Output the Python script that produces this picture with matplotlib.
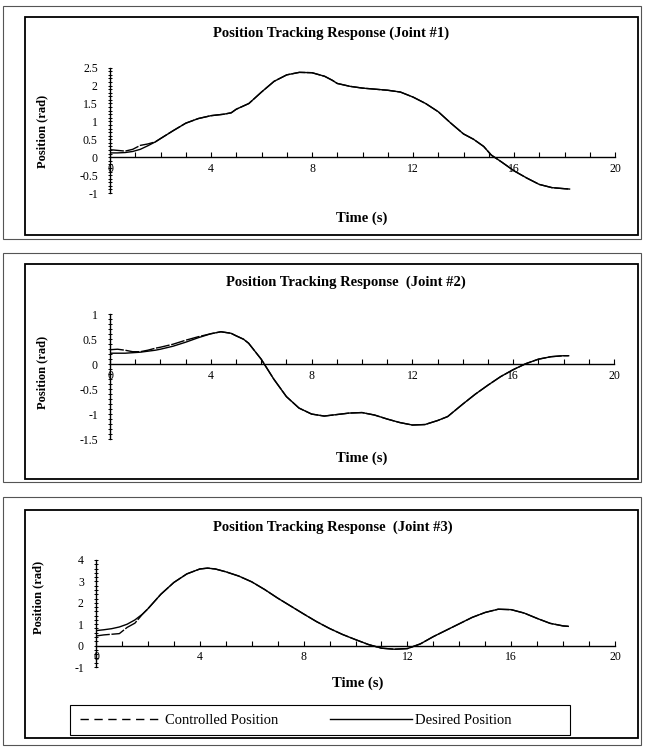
import matplotlib
matplotlib.use("Agg")
import matplotlib.pyplot as plt
from matplotlib.lines import Line2D
from matplotlib.patches import Rectangle
from matplotlib.ticker import MultipleLocator

# ---- data ----
time_1 = [0, 0.3, 0.6, 0.9, 1.2, 1.5, 1.8, 2.0, 2.5, 3.0, 3.5, 4.0, 4.5, 4.8, 5.0,
          5.5, 6.0, 6.5, 7.0, 7.5, 8.0, 8.5, 8.8, 9.0, 9.5, 10.0, 10.5, 11.0, 11.5,
          12.0, 12.5, 13.0, 13.5, 14.0, 14.4, 14.8, 15.1, 15.5, 16.0, 16.5, 17.0,
          17.5, 18.0, 18.2]
desired_1 = [0.12, 0.12, 0.13, 0.16, 0.22, 0.32, 0.43, 0.52, 0.74, 0.95, 1.08, 1.16,
             1.20, 1.24, 1.34, 1.50, 1.82, 2.12, 2.30, 2.37, 2.36, 2.26, 2.15, 2.06,
             1.98, 1.93, 1.90, 1.87, 1.82, 1.68, 1.50, 1.27, 0.95, 0.65, 0.50, 0.30,
             0.06, -0.13, -0.38, -0.58, -0.76, -0.85, -0.88, -0.89]
controlled_1 = [0.21, 0.19, 0.17, 0.22, 0.33, 0.37, 0.43, 0.52, 0.74, 0.95, 1.08, 1.16,
                1.20, 1.24, 1.34, 1.50, 1.82, 2.12, 2.30, 2.37, 2.36, 2.26, 2.15, 2.06,
                1.98, 1.93, 1.90, 1.87, 1.82, 1.68, 1.50, 1.27, 0.95, 0.65, 0.50, 0.30,
                0.06, -0.13, -0.38, -0.58, -0.76, -0.85, -0.88, -0.89]

time_2 = [0, 0.3, 0.6, 0.9, 1.2, 1.5, 1.8, 2.0, 2.5, 3.0, 3.5, 4.0, 4.4, 4.8, 5.0,
          5.3, 5.5, 6.0, 6.5, 7.0, 7.5, 8.0, 8.5, 9.0, 9.5, 10.0, 10.5, 11.0, 11.5,
          12.0, 12.5, 13.0, 13.4, 14.0, 14.5, 15.0, 15.5, 16.0, 16.5, 17.0, 17.5,
          18.0, 18.2]
desired_2 = [0.22, 0.22, 0.22, 0.23, 0.24, 0.26, 0.28, 0.30, 0.36, 0.44, 0.53, 0.61,
             0.65, 0.62, 0.57, 0.50, 0.42, 0.10, -0.30, -0.65, -0.88, -1.00, -1.04,
             -1.01, -0.98, -0.97, -1.02, -1.10, -1.17, -1.22, -1.21, -1.13, -1.05,
             -0.80, -0.60, -0.42, -0.25, -0.11, 0.01, 0.10, 0.15, 0.17, 0.17]
controlled_2 = [0.29, 0.30, 0.28, 0.25, 0.25, 0.28, 0.32, 0.34, 0.40, 0.48, 0.55, 0.61,
                0.65, 0.62, 0.57, 0.50, 0.42, 0.10, -0.30, -0.65, -0.88, -1.00, -1.04,
                -1.01, -0.98, -0.97, -1.02, -1.10, -1.17, -1.22, -1.21, -1.13, -1.05,
                -0.80, -0.60, -0.42, -0.25, -0.11, 0.01, 0.10, 0.15, 0.17, 0.17]

time_3 = [0, 0.3, 0.6, 0.9, 1.2, 1.5, 1.8, 2.0, 2.5, 3.0, 3.5, 4.0, 4.3, 4.6, 5.0,
          5.5, 6.0, 6.5, 7.0, 7.5, 8.0, 8.5, 9.0, 9.5, 10.0, 10.5, 11.0, 11.5, 12.0,
          12.5, 13.0, 13.5, 14.0, 14.5, 15.0, 15.5, 16.0, 16.5, 17.0, 17.5, 18.0, 18.2]
desired_3 = [0.70, 0.74, 0.79, 0.87, 1.00, 1.20, 1.48, 1.72, 2.40, 2.95, 3.35, 3.58,
             3.62, 3.58, 3.45, 3.25, 2.98, 2.62, 2.22, 1.85, 1.48, 1.12, 0.80, 0.52,
             0.28, 0.05, -0.12, -0.17, -0.14, 0.08, 0.42, 0.72, 1.02, 1.32, 1.55, 1.70,
             1.68, 1.52, 1.27, 1.04, 0.92, 0.90]
controlled_3 = [0.45, 0.50, 0.53, 0.56, 0.85, 1.05, 1.48, 1.72, 2.40, 2.95, 3.35, 3.58,
                3.62, 3.58, 3.45, 3.25, 2.98, 2.62, 2.22, 1.85, 1.48, 1.12, 0.80, 0.52,
                0.28, 0.05, -0.12, -0.17, -0.14, 0.08, 0.42, 0.72, 1.02, 1.32, 1.55, 1.70,
                1.68, 1.52, 1.27, 1.04, 0.92, 0.90]

titles = ["Position Tracking Response (Joint #1)",
          "Position Tracking Response  (Joint #2)",
          "Position Tracking Response  (Joint #3)"]
legend_labels = ["Controlled Position", "Desired Position"]

W, H = 654, 747
SERIF = ["Liberation Serif", "DejaVu Serif"]
plt.rcParams["font.family"] = SERIF


def px_box(x0, y0, x1, y1):
    """Pixel box (top-left origin) -> figure fraction rect."""
    return [x0 / W, 1 - y1 / H, (x1 - x0) / W, (y1 - y0) / H]


def fig_xy(x, y):
    return x / W, 1 - y / H


def add_frame(box, color, lw):
    x0, y0, x1, y1 = box
    fig.add_artist(Rectangle(fig_xy(x0, y1), (x1 - x0) / W, (y1 - y0) / H,
                             transform=fig.transFigure, fill=False,
                             edgecolor=color, linewidth=lw))


fig = plt.figure(figsize=(W / 100, H / 100), dpi=100)
fig.patch.set_facecolor("white")

panels = [
    dict(t=time_1, des=desired_1, ctl=controlled_1, title=titles[0],
         ax_box=(110, 67.7, 615, 193), ylim=(-1, 2.5), major=0.5, minor=0.1,
         outer=(3, 6, 641, 239), inner=(25, 17, 638, 235),
         title_xy=(331, 33), ylab_xy=(42, 131), xlab_xy=(362, 218)),
    dict(t=time_2, des=desired_2, ctl=controlled_2, title=titles[1],
         ax_box=(110, 314.3, 614, 439), ylim=(-1.5, 1), major=0.5, minor=0.1,
         outer=(3, 253, 641, 482), inner=(25, 264, 638, 479),
         title_xy=(346, 282), ylab_xy=(42, 372), xlab_xy=(362, 458)),
    dict(t=time_3, des=desired_3, ctl=controlled_3, title=titles[2],
         ax_box=(96, 560, 615, 667), ylim=(-1, 4), major=1, minor=0.2,
         outer=(3, 497, 641, 745), inner=(25, 510, 638, 738),
         title_xy=(333, 527), ylab_xy=(38, 597), xlab_xy=(358, 683)),
]

for p in panels:
    # frames around each chart
    add_frame(p["outer"], "#555555", 0.8)
    add_frame(p["inner"], "black", 1.3)

    ax = fig.add_axes(px_box(*p["ax_box"]))
    ax.patch.set_alpha(0)
    # the scan blurs the controlled trace into an almost solid line
    ax.plot(p["t"], p["ctl"], color="black", linewidth=1.0, dashes=(10, 1.2))
    ax.plot(p["t"], p["des"], color="black", linewidth=1.0)

    ax.set_xlim(0, 20)
    ax.set_ylim(*p["ylim"])
    ax.spines["top"].set_visible(False)
    ax.spines["right"].set_visible(False)
    ax.spines["bottom"].set_position(("data", 0))
    ax.spines["left"].set_linewidth(1.0)
    ax.spines["bottom"].set_linewidth(1.0)

    ax.xaxis.set_major_locator(MultipleLocator(4))
    ax.xaxis.set_minor_locator(MultipleLocator(1))
    ax.yaxis.set_major_locator(MultipleLocator(p["major"]))
    ax.yaxis.set_minor_locator(MultipleLocator(p["minor"]))
    ax.tick_params(axis="x", which="both", direction="in", length=3.5, width=0.8,
                   labelsize=8.5, pad=4)
    ax.tick_params(axis="y", which="both", direction="inout", length=3.5, width=0.7,
                   labelsize=8.5, pad=7)
    ax.yaxis.set_major_formatter(matplotlib.ticker.FuncFormatter(
        lambda v, _: f"{v:g}"))

    fig.text(*fig_xy(*p["title_xy"]), p["title"], ha="center", va="center",
             fontsize=10.5, fontweight="bold")
    fig.text(*fig_xy(*p["ylab_xy"]), "Position (rad)", ha="center", va="center",
             rotation=90, fontsize=9, fontweight="bold")
    fig.text(*fig_xy(*p["xlab_xy"]), "Time (s)", ha="center", va="center",
             fontsize=10.5, fontweight="bold")

# legend below the third chart: box drawn separately, entries placed inside it
add_frame((70, 705, 570, 735), "black", 0.8)
handles = [Line2D([], [], color="black", linewidth=1.0, linestyle=(0, (6, 4))),
           Line2D([], [], color="black", linewidth=1.0)]
fig.legend(handles, legend_labels, loc="center left", ncol=2,
           bbox_to_anchor=fig_xy(80, 720), fontsize=10.5, handlelength=5.6,
           handletextpad=0.2, columnspacing=3.6, frameon=False,
           borderpad=0, borderaxespad=0)

fig.savefig("out.png", dpi=100, facecolor=fig.get_facecolor())
